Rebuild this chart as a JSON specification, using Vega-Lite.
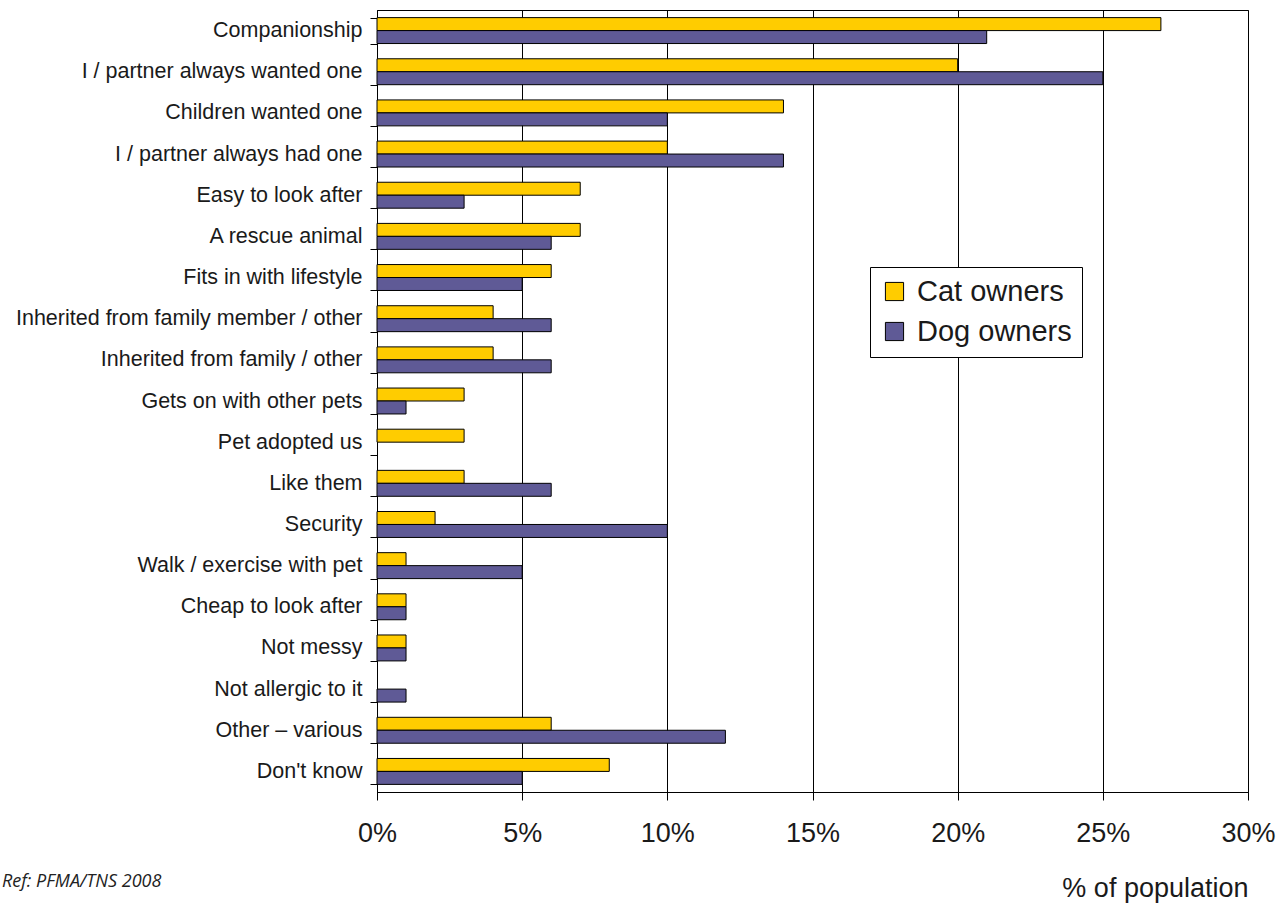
{
  "$schema": "https://vega.github.io/schema/vega-lite/v6.json",
  "autosize": {"type": "none"},
  "padding": {"left": 377, "top": 10, "right": 32, "bottom": 111},
  "width": 871,
  "height": 782,
  "background": "white",
  "title": {
    "text": "Ref: PFMA/TNS 2008",
    "orient": "bottom",
    "anchor": "start",
    "frame": "group",
    "dx": -375,
    "dy": -32,
    "font": "Open Sans",
    "fontStyle": "italic",
    "fontWeight": "normal",
    "fontSize": 18,
    "color": "#222222"
  },
  "data": {
    "values": [
      {"reason": "Companionship", "owner": "Cat owners", "pct": 27},
      {"reason": "Companionship", "owner": "Dog owners", "pct": 21},
      {"reason": "I / partner always wanted one", "owner": "Cat owners", "pct": 20},
      {"reason": "I / partner always wanted one", "owner": "Dog owners", "pct": 25},
      {"reason": "Children wanted one", "owner": "Cat owners", "pct": 14},
      {"reason": "Children wanted one", "owner": "Dog owners", "pct": 10},
      {"reason": "I / partner always had one", "owner": "Cat owners", "pct": 10},
      {"reason": "I / partner always had one", "owner": "Dog owners", "pct": 14},
      {"reason": "Easy to look after", "owner": "Cat owners", "pct": 7},
      {"reason": "Easy to look after", "owner": "Dog owners", "pct": 3},
      {"reason": "A rescue animal", "owner": "Cat owners", "pct": 7},
      {"reason": "A rescue animal", "owner": "Dog owners", "pct": 6},
      {"reason": "Fits in with lifestyle", "owner": "Cat owners", "pct": 6},
      {"reason": "Fits in with lifestyle", "owner": "Dog owners", "pct": 5},
      {"reason": "Inherited from family member / other", "owner": "Cat owners", "pct": 4},
      {"reason": "Inherited from family member / other", "owner": "Dog owners", "pct": 6},
      {"reason": "Inherited from family / other ", "owner": "Cat owners", "pct": 4},
      {"reason": "Inherited from family / other ", "owner": "Dog owners", "pct": 6},
      {"reason": "Gets on with other pets ", "owner": "Cat owners", "pct": 3},
      {"reason": "Gets on with other pets ", "owner": "Dog owners", "pct": 1},
      {"reason": "Pet adopted us", "owner": "Cat owners", "pct": 3},
      {"reason": "Pet adopted us", "owner": "Dog owners", "pct": 0},
      {"reason": "Like them", "owner": "Cat owners", "pct": 3},
      {"reason": "Like them", "owner": "Dog owners", "pct": 6},
      {"reason": "Security", "owner": "Cat owners", "pct": 2},
      {"reason": "Security", "owner": "Dog owners", "pct": 10},
      {"reason": "Walk / exercise with pet", "owner": "Cat owners", "pct": 1},
      {"reason": "Walk / exercise with pet", "owner": "Dog owners", "pct": 5},
      {"reason": "Cheap to look after", "owner": "Cat owners", "pct": 1},
      {"reason": "Cheap to look after", "owner": "Dog owners", "pct": 1},
      {"reason": "Not messy", "owner": "Cat owners", "pct": 1},
      {"reason": "Not messy", "owner": "Dog owners", "pct": 1},
      {"reason": "Not allergic to it", "owner": "Cat owners", "pct": 0},
      {"reason": "Not allergic to it", "owner": "Dog owners", "pct": 1},
      {"reason": "Other – various", "owner": "Cat owners", "pct": 6},
      {"reason": "Other – various", "owner": "Dog owners", "pct": 12},
      {"reason": "Don't know", "owner": "Cat owners", "pct": 8},
      {"reason": "Don't know", "owner": "Dog owners", "pct": 5}
    ]
  },
  "transform": [{"filter": "datum.pct > 0"}],
  "mark": {"type": "bar", "stroke": "black", "strokeWidth": 1},
  "encoding": {
    "y": {
      "field": "reason",
      "type": "nominal",
      "sort": null,
      "scale": {"paddingInner": 0.37, "paddingOuter": 0.185},
      "axis": {
        "title": null,
        "domainColor": "black",
        "tickColor": "black",
        "tickSize": 7,
        "tickBand": "extent",
        "labelFont": "Arial, Liberation Sans",
        "labelFontSize": 21.5,
        "labelColor": "#1a1a1a",
        "labelPadding": 8,
        "labelLimit": 400
      }
    },
    "yOffset": {
      "field": "owner",
      "type": "nominal",
      "sort": ["Cat owners", "Dog owners"],
      "scale": {"paddingInner": 0, "paddingOuter": 0}
    },
    "x": {
      "field": "pct",
      "type": "quantitative",
      "scale": {"domain": [0, 30], "nice": false},
      "axis": {
        "values": [0, 5, 10, 15, 20, 25, 30],
        "labelExpr": "datum.value + '%'",
        "title": "% of population",
        "titleAnchor": "end",
        "titleFont": "Arial, Liberation Sans",
        "titleFontSize": 27,
        "titleFontWeight": "normal",
        "titleColor": "#1a1a1a",
        "titlePadding": 29,
        "domainColor": "black",
        "tickColor": "black",
        "tickSize": 8,
        "grid": true,
        "gridColor": "black",
        "gridOpacity": 1,
        "labelFont": "Arial, Liberation Sans",
        "labelFontSize": 27,
        "labelColor": "#1a1a1a",
        "labelPadding": 20,
        "labelFlush": false
      }
    },
    "fill": {
      "field": "owner",
      "type": "nominal",
      "scale": {"domain": ["Cat owners", "Dog owners"], "range": ["#FFCC00", "#5F5A96"]},
      "legend": {
        "title": null,
        "orient": "none",
        "legendX": 493,
        "legendY": 257,
        "padding": 10,
        "strokeColor": "black",
        "fillColor": "white",
        "symbolType": "square",
        "symbolSize": 330,
        "symbolStrokeColor": "black",
        "symbolStrokeWidth": 1,
        "labelFont": "Arial, Liberation Sans",
        "labelFontSize": 29,
        "labelColor": "#1a1a1a",
        "labelOffset": 8,
        "rowPadding": 10
      }
    }
  },
  "config": {
    "view": {"stroke": "black", "strokeWidth": 1}
  }
}
